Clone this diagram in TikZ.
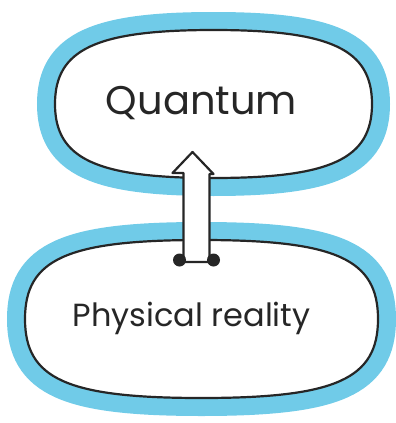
\documentclass[tikz,border=0pt]{standalone}
\usepackage{fontspec}
\setmainfont{Poppins}
\usepackage{tikz}
\usetikzlibrary{positioning, calc}
\definecolor{halo}{RGB}{112,203,232}

% Squarish oval drawn round a node: #1 node name, #2 how square (0.55 = ellipse)
\newcommand{\drawblob}[2]{%
  \draw[blobline] (#1.west)
    .. controls ($(#1.west)!#2!(#1.north west)$) and ($(#1.north)!#2!(#1.north west)$) .. (#1.north)
    .. controls ($(#1.north)!#2!(#1.north east)$) and ($(#1.east)!#2!(#1.north east)$) .. (#1.east)
    .. controls ($(#1.east)!#2!(#1.south east)$) and ($(#1.south)!#2!(#1.south east)$) .. (#1.south)
    .. controls ($(#1.south)!#2!(#1.south west)$) and ($(#1.west)!#2!(#1.south west)$) .. (#1.west)
    -- cycle;}

\begin{document}
\begin{tikzpicture}[x=1pt, y=-1pt,
    % Blob frame only, the outline is drawn by \drawblob
    blob/.style={inner sep=0pt, outer sep=0pt},
    % White inside, black pen line, broad blue marker round it
    blobline/.style={draw=black!85, fill=white, line width=2.2pt,
      preaction={draw=halo, line width=36pt}},
    % Text written in the blobs
    label text/.style={text=black!85},
    % The hollow arrow between them
    hollow/.style={draw=black!85, fill=white, line width=2.2pt, line join=round}
  ]
  \useasboundingbox (0,0) rectangle (396,423);

  % --- Blobs ---
  \node[blob, minimum width=317pt, minimum height=148pt] (quantum) at (213.5,104) {};
  \node[blob, minimum width=353pt, minimum height=158pt,
    below=62pt of quantum.south, anchor=north, xshift=-12pt] (physical) {};
  \drawblob{quantum}{0.74}
  \drawblob{physical}{0.76}

  % --- Texts ---
  \node[label text, font=\fontsize{40}{48}\selectfont] (quantumtext)
    at ($(quantum.center)+(-12,-1)$) {Quantum};
  \node[label text, font=\fontsize{32}{38}\selectfont] (physicaltext)
    at ($(physical.center)+(-10,-1)$) {Physical reality};

  % --- Arrow from physical reality up to quantum ---
  \coordinate (tail) at ($(physical.north)+(-5,22)$);
  \coordinate (tip) at ($(quantum.south)+(-21,-26)$);
  \draw[hollow] ($(tail)+(-13,0)$) -- ($(tip)+(-9,21)$) -- ($(tip)+(-20,21)$)
    -- (tip) -- ($(tip)+(21,22)$) -- ($(tip)+(17,22)$) -- ($(tail)+(13,0)$) -- cycle;
  \fill[black!85] ($(tail)+(-17,-2)$) circle (6.5pt);
  \fill[black!85] ($(tail)+(17,-2)$) circle (6.5pt);

\end{tikzpicture}
\end{document}
